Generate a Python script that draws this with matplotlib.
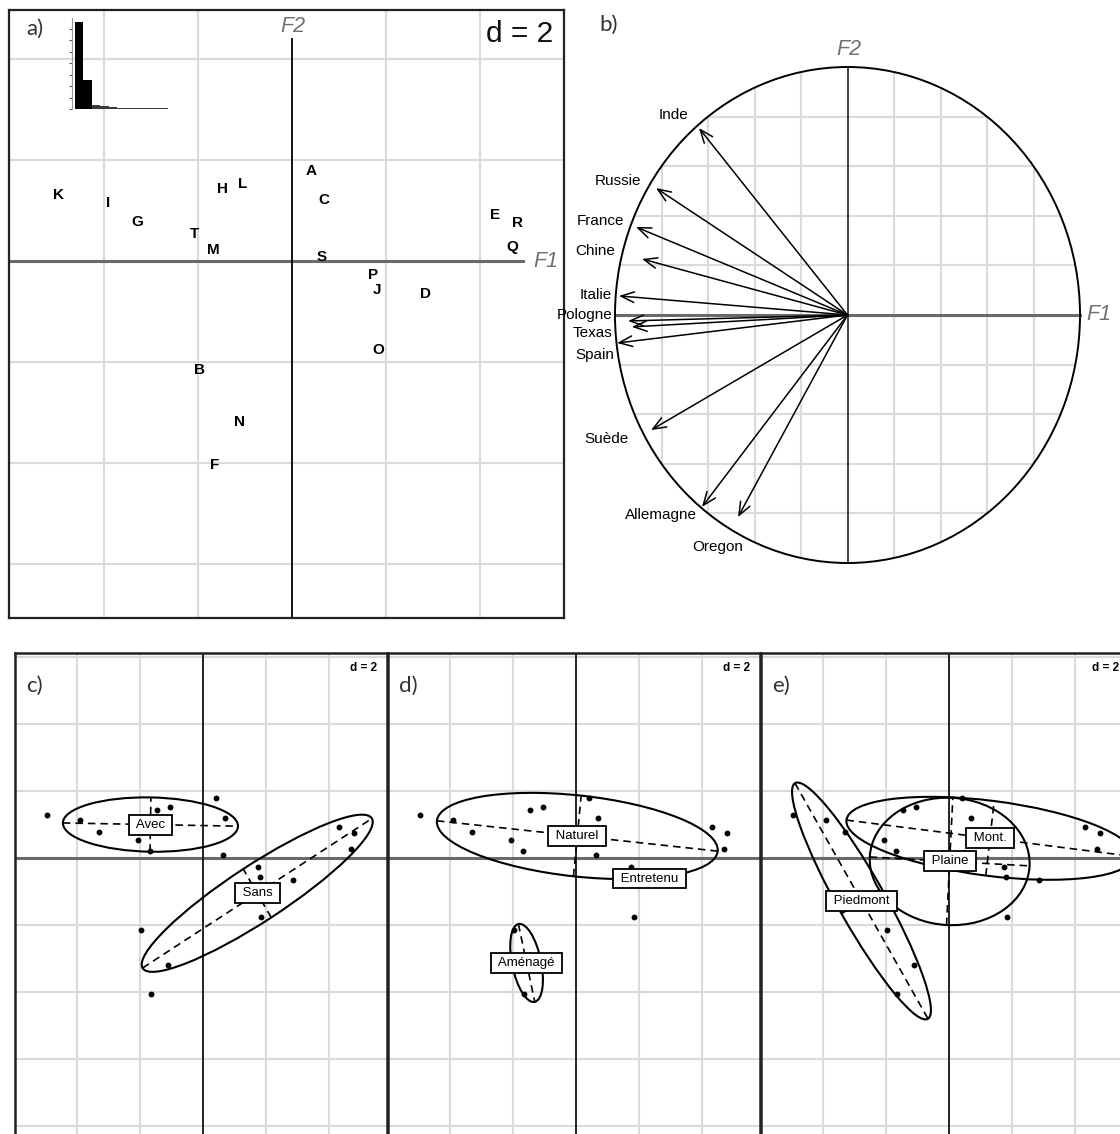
import matplotlib
matplotlib.use("Agg")
import numpy as np
import matplotlib.pyplot as plt
from matplotlib.patches import Ellipse, Circle

plt.rcParams["font.family"] = ["Liberation Sans", "DejaVu Sans"]

# --------------------------------------------------------------------------
# DATA
# --------------------------------------------------------------------------
obs_labels = list("ABCDEFGHIJKLMNOPQRST")
f1_scores = [0.40, -1.96, 0.69, 2.85, 4.32, -1.64, -3.30, -1.47, -3.91, 1.80,
             -4.96, -1.05, -1.67, -1.12, 1.84, 1.73, 4.70, 4.80, 0.63, -2.07]
f2_scores = [1.78, -2.15, 1.20, -0.65, 0.92, -4.05, 0.78, 1.42, 1.15, -0.57,
             1.30, 1.53, 0.22, -3.18, -1.77, -0.28, 0.28, 0.75, 0.08, 0.53]

eigenvalues = [7.6, 2.55, 0.35, 0.22, 0.15, 0.13, 0.12, 0.11, 0.11, 0.10, 0.10]

var_names = ["Inde", "Russie", "France", "Chine", "Italie", "Pologne",
             "Texas", "Spain", "Suède", "Allemagne", "Oregon"]
var_f1 = [-0.639, -0.824, -0.910, -0.884, -0.983, -0.944, -0.928, -0.991, -0.845, -0.626, -0.471]
var_f2 = [0.754, 0.512, 0.355, 0.226, 0.077, -0.024, -0.048, -0.113, -0.464, -0.774, -0.815]

# class ellipses (centre, semi axes, angle in degrees)
c_names = ["Avec", "Sans"]
c_x = [-1.67, 1.72]
c_y = [1.00, -1.05]
c_major = [2.78, 4.27]
c_minor = [0.81, 0.85]
c_angle = [-1.0, 31.5]

d_names = ["Naturel", "Entretenu", "Aménagé"]
d_x = [0.04, 2.33, -1.57]
d_y = [0.66, -0.61, -3.13]
d_major = [4.48, 0.79, 1.19]
d_minor = [1.21, 0.0, 0.46]
d_angle = [-5.8, -4.4, -77.4]

e_names = ["Piedmont", "Plaine", "Mont."]
e_x = [-2.78, 0.02, 1.30]
e_y = [-1.28, -0.10, 0.59]
e_major = [4.10, 2.54, 4.59]
e_minor = [0.74, 1.90, 1.12]
e_angle = [-59.0, -3.0, -6.8]

# --------------------------------------------------------------------------
# LAYOUT HELPERS
# --------------------------------------------------------------------------
W, H = 1120, 1134
GRID = "#dadada"
AXIS_GREY = "#6a6a6a"
TAG_FONT = ["Lato", "DejaVu Sans"]

fig = plt.figure(figsize=(W / 100, H / 100), dpi=100)


def px_axes(left, top, right, bottom):
    """Axes placed by pixel edges of the 1120x1134 canvas."""
    return fig.add_axes([left / W, 1 - bottom / H, (right - left) / W, (bottom - top) / H])


def frame(ax, lw=1.6):
    ax.set_xticks([])
    ax.set_yticks([])
    for sp in ax.spines.values():
        sp.set_linewidth(lw)
        sp.set_color("#222222")


# --------------------------------------------------------------------------
# a) scores
# --------------------------------------------------------------------------
ax = px_axes(9, 10, 564, 618)
ax.set_xlim(-6.02, 5.79)
ax.set_ylim(-7.07, 4.97)
frame(ax)
for v in (-4, -2, 2, 4):
    ax.axvline(v, color=GRID, lw=1.5, zorder=0)
for h in (-6, -4, -2, 2, 4):
    ax.axhline(h, color=GRID, lw=1.5, zorder=0)
ax.plot([-6.02, 4.91], [0, 0], color=AXIS_GREY, lw=2.2, zorder=1)
ax.plot([0, 0], [-7.07, 4.40], color="#111111", lw=1.4, zorder=1)
ax.text(0.02, 4.65, "F2", ha="center", va="center", fontsize=15.5,
        style="italic", color="#707070")
ax.text(5.4, -0.02, "F1", ha="center", va="center", fontsize=15.5,
        style="italic", color="#707070", clip_on=False)
for lab, x, y in zip(obs_labels, f1_scores, f2_scores):
    ax.text(x, y, lab, ha="center", va="center", fontsize=11, fontweight="bold")
ax.text(0.980, 0.961, "d = 2", transform=ax.transAxes, ha="right", va="center",
        fontsize=21.5, color="#111111")
ax.text(0.031, 0.969, "a)", transform=ax.transAxes, ha="left", va="center",
        fontsize=16, family=TAG_FONT, color="#333333")

# eigenvalue inset
axi = px_axes(72, 18, 169, 109)
axi.bar(range(len(eigenvalues)), eigenvalues, width=1.0,
        color=["black", "black"] + ["#3a3a3a"] * (len(eigenvalues) - 2), lw=0)
axi.set_xlim(-0.854, 10.58)
axi.set_ylim(0, 7.92)
axi.set_facecolor("none")
for side in ("top", "right", "bottom"):
    axi.spines[side].set_visible(False)
axi.spines["left"].set_color("#9a9a9a")
axi.spines["left"].set_linewidth(0.8)
axi.set_xticks([])
axi.set_yticks(range(8))
axi.set_yticklabels([])
axi.tick_params(axis="y", length=2.5, width=0.8, color="#555555")

# --------------------------------------------------------------------------
# b) correlation circle
# --------------------------------------------------------------------------
axb = px_axes(566, 0, 1120, 600)
axb.set_xlim((566 - 847.5) / 232.5, (1120 - 847.5) / 232.5)
axb.set_ylim((315 - 600) / 248, 315 / 248)
axb.axis("off")

clip = Circle((0, 0), 1, transform=axb.transData)
for g in (-0.8, -0.6, -0.4, -0.2, 0.2, 0.4, 0.6, 0.8):
    lv, = axb.plot([g, g], [-1, 1], color=GRID, lw=1.5, zorder=0)
    lh, = axb.plot([-1, 1], [g, g], color=GRID, lw=1.5, zorder=0)
    lv.set_clip_path(clip)
    lh.set_clip_path(clip)
axb.plot([-1, 1], [0, 0], color=AXIS_GREY, lw=2.2, zorder=1)
axb.plot([0, 0], [-1, 1], color="#111111", lw=1.1, zorder=1)
axb.add_patch(Circle((0, 0), 1, fill=False, lw=1.4, ec="black", zorder=2))
axb.text(0.005, 1.07, "F2", ha="center", va="center", fontsize=15.5,
         style="italic", color="#707070")
axb.text(1.08, 0.0, "F1", ha="center", va="center", fontsize=15.5,
         style="italic", color="#707070")
axb.text(0.06, 0.958, "b)", transform=axb.transAxes, ha="left", va="center",
         fontsize=16, family=TAG_FONT, color="#333333")

# label nudges in pixels from the arrow tip (x, y, alignment)
label_nudges = [(-11, 13, "right"), (-15, 7, "right"), (-12, 6, "right"),
                (-27, 8, "right"), (-7, 1, "right"), (-16, 6, "right"),
                (-19, -6, "right"), (-3, -12, "right"), (-22, -9, "right"),
                (-5, -8, "right"), (-20, -30, "center")]
for name, x, y, (dx, dy, ha) in zip(var_names, var_f1, var_f2, label_nudges):
    axb.annotate("", xy=(x, y), xytext=(0, 0),
                 arrowprops=dict(arrowstyle="->,head_length=0.95,head_width=0.38",
                                 lw=1.1, color="black", shrinkA=0, shrinkB=0,
                                 mutation_scale=10), zorder=3)
    axb.annotate(name, xy=(x, y), xytext=(dx, dy), textcoords="offset pixels",
                 ha=ha, va="center", fontsize=11, zorder=4)


# --------------------------------------------------------------------------
# c) d) e) class ellipses
# --------------------------------------------------------------------------
def class_panel(left, tag, names, xs, ys, majors, minors, angles, d_right=10):
    axc = px_axes(left, 653, left + 372, 1160)
    axc.set_xlim(-5.97, 5.84)
    axc.set_ylim(-9.01, 6.12)
    frame(axc, lw=1.8)
    for v in (-4, -2, 2, 4):
        axc.axvline(v, color=GRID, lw=1.5, zorder=0)
    for h in (-8, -6, -4, -2, 2, 4, 6):
        axc.axhline(h, color=GRID, lw=1.5, zorder=0)
    axc.axhline(0, color=AXIS_GREY, lw=2.2, zorder=1)
    axc.axvline(0, color="#111111", lw=1.3, zorder=1)

    axc.plot(f1_scores, f2_scores, "o", ms=3.2, color="black", zorder=3)

    for name, x, y, a, b, ang in zip(names, xs, ys, majors, minors, angles):
        t = np.deg2rad(ang)
        u = np.array([np.cos(t), np.sin(t)])
        v = np.array([-np.sin(t), np.cos(t)])
        axc.add_patch(Ellipse((x, y), 2 * a, 2 * b, angle=ang, fill=False,
                              lw=1.5, ec="black", zorder=2))
        for vec, half in ((u, a), (v, b)):
            axc.plot([x - half * vec[0], x + half * vec[0]],
                     [y - half * vec[1], y + half * vec[1]],
                     color="black", lw=1.2, dashes=(4.5, 3), zorder=2)
        axc.text(x, y, f" {name} ", ha="center", va="center", fontsize=9.5, zorder=5,
                 bbox=dict(boxstyle="square,pad=0.3", fc="white", ec="black", lw=1.3))

    axc.text(1 - d_right / 372, 1 - 15 / 507, "d = 2", transform=axc.transAxes,
             ha="right", va="center", fontsize=8.5, fontweight="bold")
    axc.text(0.03, 1 - 33 / 507, tag, transform=axc.transAxes, ha="left",
             va="center", fontsize=16, family=TAG_FONT, color="#333333")


class_panel(15, "c)", c_names, c_x, c_y, c_major, c_minor, c_angle)
class_panel(388, "d)", d_names, d_x, d_y, d_major, d_minor, d_angle)
class_panel(761, "e)", e_names, e_x, e_y, e_major, e_minor, e_angle, d_right=14)

fig.savefig("out.png", dpi=100)
